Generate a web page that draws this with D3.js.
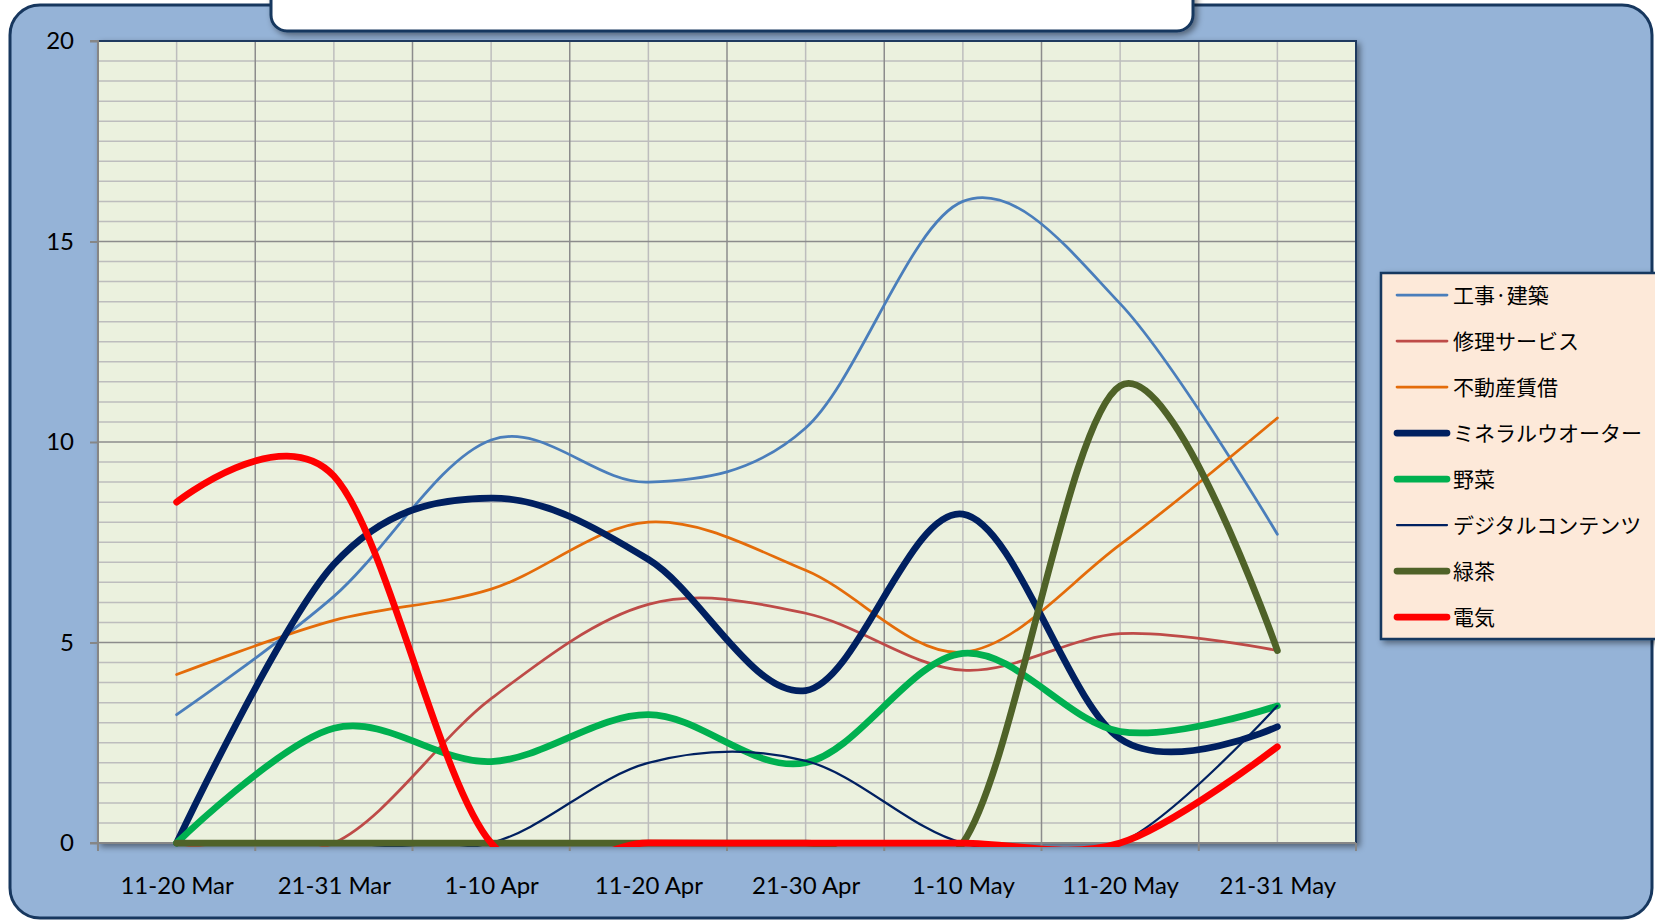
<!DOCTYPE html>
<html>
<head>
<meta charset="utf-8">
<script src="https://cdn.jsdelivr.net/npm/d3@7"></script>
<style>
  body { margin: 0; background: #fff; }
  svg { display: block; }
</style>
</head>
<body>
<svg id="chart" width="1655" height="922"></svg>
<script>
// Data
const categories = ['11-20 Mar', '21-31 Mar', '1-10 Apr', '11-20 Apr', '21-30 Apr', '1-10 May', '11-20 May', '21-31 May'];
const seriesNames = ['工事·建築', '修理サービス', '不動産賃借', 'ミネラルウオーター', '野菜', 'デジタルコンテンツ', '緑茶', '電気'];
const koujiKenchiku   = [3.2, 6.15, 10.05, 9.0, 10.35, 16.0, 13.45, 7.7];
const shuuriService   = [0, 0, 3.6, 5.95, 5.73, 4.31, 5.22, 4.8];
const fudousan        = [4.2, 5.55, 6.33, 8.0, 6.8, 4.76, 7.44, 10.6];
const mineralWater    = [0, 6.95, 8.6, 7.07, 3.8, 8.2, 2.6, 2.9];
const yasai           = [0, 2.86, 2.03, 3.2, 2.0, 4.73, 2.78, 3.42];
const digitalContents = [0, 0, 0, 2.0, 2.05, 0, 0, 3.42];
const ryokucha        = [0, 0, 0, 0, 0, 0, 11.4, 4.8];
const denki           = [8.5, 9.15, 0, 0, 0, 0, 0, 2.4];
const yTicks = [0, 5, 10, 15, 20];

// line styles, same order as the legend
const colors = ['#4a7ebb', '#be4b48', '#e46c0a', '#002060', '#00b050', '#002060', '#4f6228', '#ff0000'];
const widths = [2.75, 2.75, 2.75, 6.75, 6.75, 2.25, 6.75, 6.75];
const values = [koujiKenchiku, shuuriService, fudousan, mineralWater, yasai, digitalContents, ryokucha, denki];

const series = seriesNames.map((name, i) => ({
    name,
    color: colors[i],
    width: widths[i],
    values: values[i]
}));

const svg = d3.select('#chart');
const defs = svg.append('defs');

const shadow = defs.append('filter').attr('id', 'shadow')
    .attr('x', '-5%').attr('y', '-5%').attr('width', '115%').attr('height', '115%');
shadow.append('feDropShadow')
    .attr('dx', 3).attr('dy', 3).attr('stdDeviation', 3)
    .attr('flood-color', '#000').attr('flood-opacity', 0.45);

const plot = {left: 98, right: 1356, top: 41, bottom: 843};

defs.append('clipPath').attr('id', 'plot-clip')
    .append('rect')
    .attr('x', plot.left - 5).attr('y', plot.top - 5)
    .attr('width', plot.right - plot.left + 10)
    .attr('height', plot.bottom - plot.top + 9);

// outer chart frame
svg.append('rect')
    .attr('x', 10).attr('y', 5)
    .attr('width', 1642).attr('height', 913)
    .attr('rx', 30)
    .attr('fill', '#95b3d7')
    .attr('stroke', '#17375e')
    .attr('stroke-width', 3);

// title box (cut off at the top)
svg.append('rect')
    .attr('x', 271).attr('y', -40)
    .attr('width', 922).attr('height', 71)
    .attr('rx', 16)
    .attr('fill', '#fff')
    .attr('stroke', '#17375e')
    .attr('stroke-width', 3)
    .attr('filter', 'url(#shadow)');

const x = d3.scalePoint()
    .domain(categories)
    .range([plot.left, plot.right])
    .padding(0.5);

const xBand = d3.scaleBand()
    .domain(categories)
    .range([plot.left, plot.right]);

const y = d3.scaleLinear()
    .domain([0, 20])
    .range([plot.bottom, plot.top]);

// plot area
svg.append('rect')
    .attr('x', plot.left).attr('y', plot.top)
    .attr('width', plot.right - plot.left)
    .attr('height', plot.bottom - plot.top)
    .attr('fill', '#ebf1de')
    .attr('stroke', '#1f3a5f')
    .attr('stroke-width', 2)
    .attr('filter', 'url(#shadow)');

const grid = svg.append('g');

const minorY = d3.range(0.5, 20, 0.5).filter(v => v % 5 !== 0);
grid.selectAll('.minor-y')
    .data(minorY)
    .enter().append('line')
        .attr('x1', plot.left).attr('x2', plot.right)
        .attr('y1', d => y(d)).attr('y2', d => y(d))
        .attr('stroke', '#bdbdbd')
        .attr('stroke-width', 1.5);

grid.selectAll('.minor-x')
    .data(categories)
    .enter().append('line')
        .attr('x1', d => x(d)).attr('x2', d => x(d))
        .attr('y1', plot.top).attr('y2', plot.bottom)
        .attr('stroke', '#bdbdbd')
        .attr('stroke-width', 1.5);

grid.selectAll('.major-x')
    .data(categories.slice(1))
    .enter().append('line')
        .attr('x1', d => xBand(d)).attr('x2', d => xBand(d))
        .attr('y1', plot.top).attr('y2', plot.bottom)
        .attr('stroke', '#8c8c8c')
        .attr('stroke-width', 1.5);

grid.selectAll('.major-y')
    .data(yTicks.slice(1, -1))
    .enter().append('line')
        .attr('x1', plot.left).attr('x2', plot.right)
        .attr('y1', d => y(d)).attr('y2', d => y(d))
        .attr('stroke', '#8c8c8c')
        .attr('stroke-width', 1.5);

// top and right border again over the grid
svg.append('path')
    .attr('d', `M${plot.left},${plot.top}H${plot.right}V${plot.bottom}`)
    .attr('fill', 'none')
    .attr('stroke', '#1f3a5f')
    .attr('stroke-width', 2);

// axes
const yAxis = svg.append('g')
    .attr('transform', `translate(${plot.left},0)`)
    .call(d3.axisLeft(y).tickValues(yTicks).tickSize(8).tickPadding(16));

const xAxis = svg.append('g')
    .attr('transform', `translate(0,${plot.bottom})`)
    .call(d3.axisBottom(x).tickSize(0).tickPadding(34));

xAxis.selectAll('.xtick')
    .data(categories.slice(1).concat(['end']))
    .enter().append('line')
        .attr('x1', d => d === 'end' ? plot.right : xBand(d))
        .attr('x2', d => d === 'end' ? plot.right : xBand(d))
        .attr('y1', 0).attr('y2', 8)
        .attr('stroke', '#868686')
        .attr('stroke-width', 2);
xAxis.append('line')
    .attr('x1', plot.left).attr('x2', plot.left)
    .attr('y1', 0).attr('y2', 8)
    .attr('stroke', '#868686')
    .attr('stroke-width', 2);

[yAxis, xAxis].forEach(ax => {
    ax.select('.domain').attr('stroke', '#868686').attr('stroke-width', 2);
    ax.selectAll('.tick line').attr('stroke', '#868686').attr('stroke-width', 2);
    ax.selectAll('text')
        .attr('fill', '#000')
        .style('font-family', 'Lato, "Open Sans", sans-serif')
        .style('font-size', '24px');
});
yAxis.select('.domain').attr('d', `M-8,${plot.top}H0V${plot.bottom}H-8`);
xAxis.select('.domain').attr('d', `M${plot.left},0H${plot.right}`);

// series, drawn over the axis lines
const line = d3.line()
    .x((d, i) => x(categories[i]))
    .y(d => y(d))
    .curve(d3.curveCardinal.tension(0));

svg.append('g')
    .attr('clip-path', 'url(#plot-clip)')
    .selectAll('path')
    .data(series)
    .enter().append('path')
        .attr('d', d => line(d.values))
        .attr('fill', 'none')
        .attr('stroke', d => d.color)
        .attr('stroke-width', d => d.width)
        .attr('stroke-linecap', 'round')
        .attr('stroke-linejoin', 'round');

// legend
const legend = svg.append('g');
legend.append('rect')
    .attr('x', 1381).attr('y', 273)
    .attr('width', 320).attr('height', 366)
    .attr('fill', '#fde9d9')
    .attr('stroke', '#17375e')
    .attr('stroke-width', 2.5)
    .attr('filter', 'url(#shadow)');

const items = legend.selectAll('.item')
    .data(series)
    .enter().append('g')
        .attr('transform', (d, i) => `translate(0,${295 + i * 46})`);

items.append('line')
    .attr('x1', 1397).attr('x2', 1447)
    .attr('stroke', d => d.color)
    .attr('stroke-width', d => d.width)
    .attr('stroke-linecap', 'round');

items.append('text')
    .attr('x', 1453)
    .attr('dy', '0.38em')
    .attr('fill', '#000')
    .style('font-family', '"Noto Sans CJK JP", sans-serif')
    .style('font-size', '21px')
    .text(d => d.name);
</script>
</body>
</html>
